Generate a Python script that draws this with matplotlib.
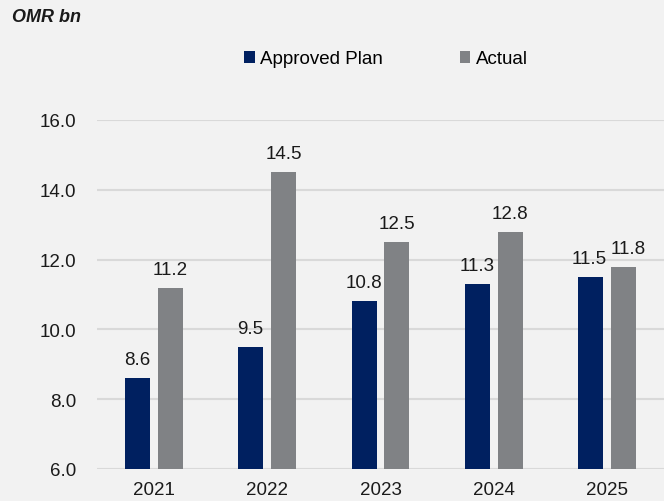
import matplotlib.pyplot as plt
import numpy as np

years = ["2021", "2022", "2023", "2024", "2025"]
plan = [8.6, 9.5, 10.8, 11.3, 11.5]
actual = [11.2, 14.5, 12.5, 12.8, 11.8]
plan_lbl = ["8.6", "9.5", "10.8", "11.3", "11.5"]
actual_lbl = ["11.2", "14.5", "12.5", "12.8", "11.8"]

navy = "#002060"
grey = "#808285"
bg = "#f2f2f2"
fs = 13.5

plt.rcParams['font.family'] = ['Liberation Sans', 'DejaVu Sans']

fig = plt.figure(figsize=(6.64, 5.02), dpi=100, facecolor=bg)
ax = fig.add_axes([97/664, 32/502, 567/664, 349/502], facecolor=bg)

x = np.arange(len(years))
w = 0.22
off = 0.145
b1 = ax.bar(x - off, plan, w, bottom=0, color=navy, label="Approved Plan", zorder=3)
b2 = ax.bar(x + off, actual, w, bottom=0, color=grey, label="Actual", zorder=3)

for i in range(len(years)):
    ax.annotate(plan_lbl[i], (x[i] - off, plan[i]), xytext=(-2 if i == 4 else 0, 10),
                textcoords='offset pixels', ha='center', va='bottom', fontsize=fs, color="#1a1a1a")
    ax.annotate(actual_lbl[i], (x[i] + off, actual[i]), xytext=(4 if i == 4 else 0, 10),
                textcoords='offset pixels', ha='center', va='bottom', fontsize=fs, color="#1a1a1a")

ax.set_xlim(-0.5, 4.5)
ax.set_ylim(6, 16)
ax.set_yticks([6, 8, 10, 12, 14, 16])
ax.set_yticklabels(["6.0", "8.0", "10.0", "12.0", "14.0", "16.0"])
ax.set_xticks(x)
ax.set_xticklabels(years)
ax.tick_params(length=0, labelsize=fs, colors="#1a1a1a")
ax.tick_params(axis='y', pad=15)
ax.tick_params(axis='x', pad=9)
ax.grid(axis='y', color="#d9d9d9", linewidth=1.5, zorder=0)
for s in ax.spines.values():
    s.set_visible(False)

fig.text(12/664, 1 - 17/502, "OMR bn", fontsize=13, fontweight='bold', style='italic',
         va='center', ha='left', color="#1a1a1a")

fig.legend(handles=[b1, b2], loc='center', bbox_to_anchor=(386/664, 1 - 60/502), ncol=2,
           frameon=False, fontsize=fs, handlelength=0.55, handleheight=0.55,
           handletextpad=0.3, columnspacing=4.1)

fig.savefig("out.png", dpi=100, facecolor=bg)
